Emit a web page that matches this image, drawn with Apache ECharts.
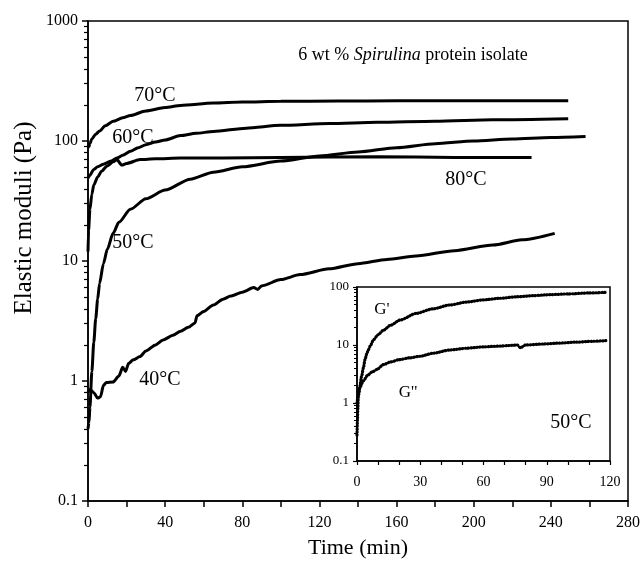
<!DOCTYPE html>
<html>
<head>
    <meta charset="utf-8">
    <title>Spirulina gel moduli</title>
    <style>
        body { margin: 0; background: #fff; }
        #main { width: 644px; height: 564px; }
    </style>
</head>
<body>
    <div id="main"></div>
    <script src="https://cdn.jsdelivr.net/npm/echarts@6/dist/echarts.min.js"></script>
    <script>
        // main plot: G' vs time at each temperature
        var t70 = [0, 0.5, 1, 2, 4, 6, 9, 13, 18, 22, 30, 40, 48, 65, 80, 100, 130, 160, 200, 249];
        var v70 = [88, 90, 95, 104, 114, 121, 134, 146, 156, 163, 178, 190, 198, 207, 211, 214, 215, 216, 216, 216];
        var t60 = [0, 1, 3, 5, 8, 12, 15, 18, 22, 26, 30, 35, 40, 48, 56, 65, 82, 100, 125, 150, 180, 210, 249];
        var v60 = [49, 52, 58, 61, 64, 68, 72, 76, 82, 88, 93, 98, 102, 111, 116, 120, 128, 135, 140, 143, 146, 150, 153];
        var t80 = [0, 0.3, 1, 2, 3, 5, 7, 10, 13, 15, 17.5, 20, 27, 35, 48, 70, 100, 150, 190, 230];
        var v80 = [12, 18, 27, 36, 43, 50, 56, 62, 67, 70, 63, 65, 70, 71, 72, 72, 73, 74, 73, 73];
        var t50 = [0, 0.5, 1, 2, 3, 4, 5, 6, 8, 10, 13, 16, 22, 30, 40, 53, 65, 80, 100, 120, 140, 160, 180, 200, 220, 240, 258];
        var v50 = [0.4, 0.45, 0.6, 1.2, 2.1, 3.3, 4.8, 6.5, 9.5, 12.5, 17, 21, 27, 33, 39, 48, 55, 61, 68, 75, 81, 88, 95, 100, 104, 107, 109];
        var t40 = [0, 1, 3, 5, 6.5, 8, 9.5, 13, 16, 18, 19.5, 21, 23.5, 27, 30, 35, 39, 44, 48, 52, 55.5, 56.5, 60, 65, 70, 74, 80, 86, 88, 90, 100, 110, 125, 140, 155, 170, 190, 210, 225, 242];
        var v40 = [0.8, 0.85, 0.8, 0.72, 0.74, 0.92, 0.97, 0.98, 1.1, 1.3, 1.2, 1.4, 1.5, 1.6, 1.78, 2.0, 2.2, 2.4, 2.6, 2.8, 3.05, 3.5, 3.8, 4.3, 4.8, 5.1, 5.5, 6.0, 5.8, 6.2, 7.0, 7.7, 8.6, 9.5, 10.3, 11.0, 12.2, 13.6, 15, 17];

        // inset: G' and G'' at 50°C
        var tG1 = [0, 0.2, 0.4, 0.6, 1.2, 2.2, 3, 3.8, 4.6, 5.4, 6.5, 7.8, 10, 12.5, 16, 20.5, 28, 36, 44, 52, 60, 68, 76, 84, 92, 100, 110, 118];
        var vG1 = [0.28, 0.5, 0.8, 1.3, 1.8, 2.9, 4.0, 5.6, 7, 8.3, 10, 12.3, 15, 18, 22, 27, 35, 42, 49, 55, 60, 64, 68, 71, 74, 76, 79, 81];
        var tG2 = [0, 0.5, 1.5, 3, 5, 7, 9.5, 12.5, 16, 20, 25, 30, 36, 44, 52, 60, 68, 76, 77.5, 80, 88, 96, 104, 112, 118];
        var vG2 = [1.0, 1.3, 1.9, 2.4, 3.0, 3.4, 3.8, 4.6, 5.1, 5.6, 6.0, 6.4, 7.2, 8.2, 8.8, 9.3, 9.6, 10, 9.0, 10, 10.4, 10.8, 11.2, 11.6, 11.9];

        var serif = 'Liberation Serif, DejaVu Serif, serif';

        function pairs(t, v) {
            return t.map(function (x, i) { return [x, v[i]]; });
        }

        function mainLine(t, v) {
            return {
                type: 'line', xAxisIndex: 0, yAxisIndex: 0,
                data: pairs(t, v), symbol: 'none',
                smooth: 0.25, smoothMonotone: 'x',
                lineStyle: { color: '#000', width: 3 }
            };
        }

        function insetLine(t, v) {
            return {
                type: 'line', xAxisIndex: 1, yAxisIndex: 1,
                data: pairs(t, v), symbol: 'none',
                smooth: 0.25, smoothMonotone: 'x',
                lineStyle: { color: '#000', width: 3.2, type: [0.5, 2.4], cap: 'round' }
            };
        }

        function label(text, x, y, size) {
            return {
                type: 'text', x: x, y: y, z: 100,
                style: { text: text, fill: '#000', fontSize: size, fontFamily: serif, align: 'center', verticalAlign: 'middle' }
            };
        }

        // plain numbers on the log axes (no thousands comma)
        function plain(v) { return String(v); }

        var axisBase = {
            axisLine: { lineStyle: { color: '#000', width: 1.5 } },
            splitLine: { show: false }
        };

        var chart = echarts.init(document.getElementById('main'));
        var option = {
            animation: false,
            backgroundColor: '#fff',
            grid: [
                { left: 88, right: 16, top: 21, bottom: 62, show: true, borderColor: '#000', borderWidth: 1.5, backgroundColor: 'transparent' },
                { left: 357, right: 34, top: 287, bottom: 103, show: true, borderColor: '#000', borderWidth: 1.5, backgroundColor: '#fff' }
            ],
            xAxis: [
                Object.assign({
                    type: 'value', gridIndex: 0, min: 0, max: 280, interval: 40,
                    name: 'Time (min)', nameLocation: 'middle', nameGap: 36,
                    nameTextStyle: { color: '#000', fontSize: 22, fontFamily: serif },
                    axisTick: { length: 6, lineStyle: { color: '#000', width: 1.5 } },
                    minorTick: { show: true, splitNumber: 2, length: 6, lineStyle: { color: '#000', width: 1.5 } },
                    axisLabel: { color: '#000', fontSize: 16, fontFamily: serif, margin: 14 }
                }, axisBase),
                Object.assign({
                    type: 'value', gridIndex: 1, min: 0, max: 120, interval: 30,
                    axisTick: { length: 4, lineStyle: { color: '#000', width: 1.2 } },
                    minorTick: { show: true, splitNumber: 3, length: 4, lineStyle: { color: '#000', width: 1.2 } },
                    axisLabel: { color: '#000', fontSize: 14, fontFamily: serif, margin: 14 }
                }, axisBase)
            ],
            yAxis: [
                Object.assign({
                    type: 'log', logBase: 10, gridIndex: 0, min: 0.1, max: 1000,
                    axisTick: { length: 6, lineStyle: { color: '#000', width: 1.5 } },
                    minorTick: { show: true, splitNumber: 9, length: 4, lineStyle: { color: '#000', width: 1.2 } },
                    minorSplitLine: { show: false },
                    axisLabel: { color: '#000', fontSize: 16, fontFamily: serif, margin: 10, formatter: plain }
                }, axisBase),
                Object.assign({
                    type: 'log', logBase: 10, gridIndex: 1, min: 0.1, max: 100,
                    axisTick: { length: 4, lineStyle: { color: '#000', width: 1.2 } },
                    minorTick: { show: true, splitNumber: 9, length: 3, lineStyle: { color: '#000', width: 1 } },
                    minorSplitLine: { show: false },
                    axisLabel: { color: '#000', fontSize: 13, fontFamily: serif, margin: 8, formatter: plain }
                }, axisBase)
            ],
            series: [
                mainLine(t70, v70),
                mainLine(t60, v60),
                mainLine(t80, v80),
                mainLine(t50, v50),
                mainLine(t40, v40),
                insetLine(tG1, vG1),
                insetLine(tG2, vG2)
            ],
            graphic: [
                {
                    type: 'text', x: 24, y: 218, rotation: Math.PI / 2, z: 100,
                    style: { text: 'Elastic moduli (Pa)', fill: '#000', fontSize: 25, fontFamily: serif, align: 'center', verticalAlign: 'middle' }
                },
                {
                    type: 'text', x: 413, y: 55, z: 100,
                    style: {
                        text: '6 wt % {i|Spirulina} protein isolate', fill: '#000', fontSize: 18, fontFamily: serif,
                        align: 'center', verticalAlign: 'middle',
                        rich: { i: { fontStyle: 'italic', fontSize: 18, fontFamily: serif, fill: '#000' } }
                    }
                },
                label('70°C', 155, 96, 20),
                label('60°C', 133, 138, 20),
                label('50°C', 133, 243, 20),
                label('40°C', 160, 380, 20),
                label('80°C', 466, 180, 20),
                label("G'", 382, 310, 17),
                label("G''", 408, 393, 17),
                label('50°C', 571, 423, 20)
            ]
        };
        chart.setOption(option);
    </script>
</body>
</html>
